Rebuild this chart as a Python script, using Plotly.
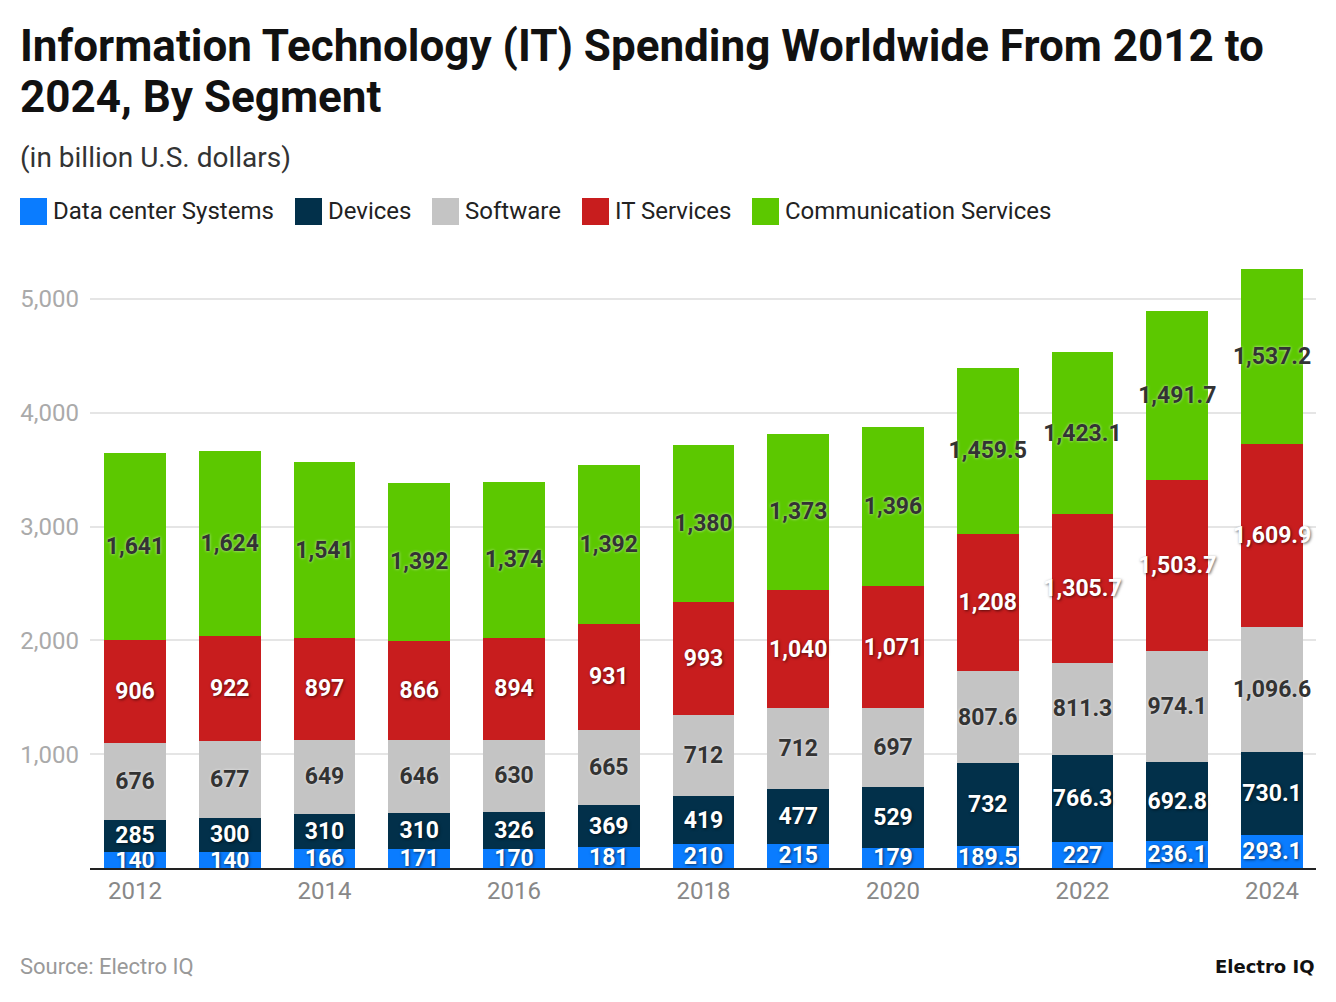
import plotly.graph_objects as go

years = list(range(2012, 2025))
data_center = [140, 140, 166, 171, 170, 181, 210, 215, 179, 189.5, 227, 236.1, 293.1]
devices = [285, 300, 310, 310, 326, 369, 419, 477, 529, 732, 766.3, 692.8, 730.1]
software = [676, 677, 649, 646, 630, 665, 712, 712, 697, 807.6, 811.3, 974.1, 1096.6]
it_services = [906, 922, 897, 866, 894, 931, 993, 1040, 1071, 1208, 1305.7, 1503.7, 1609.9]
communication = [1641, 1624, 1541, 1392, 1374, 1392, 1380, 1373, 1396, 1459.5, 1423.1, 1491.7, 1537.2]

names = ["Data center Systems", "Devices", "Software", "IT Services", "Communication Services"]
colors = ["#0a7cff", "#02304a", "#c4c4c4", "#c81d1e", "#5cc800"]
label_colors = ["#ffffff", "#ffffff", "#333333", "#ffffff", "#333333"]
series = [data_center, devices, software, it_services, communication]

title_lines = ["Information Technology (IT) Spending Worldwide From 2012 to",
               "2024, By Segment"]

W, H = 1336, 1002
L, R, T, B = 90, 20, 250, 134
PW, PH = W - L - R, H - T - B


def px(x):
    return (x - L) / PW


def py(y):
    return (H - B - y) / PH


def fmt(v):
    if v == int(v):
        return f"{int(v):,}"
    return f"{v:,.1f}"


fig = go.Figure()
for name, vals, col, lcol in zip(names, series, colors, label_colors):
    if lcol == "#ffffff":
        shadow = "1px 1px 3px rgba(0,0,0,0.6)"
    else:
        shadow = "0px 0px 3px rgba(255,255,255,0.7)"
    fig.add_trace(go.Bar(
        x=years, y=vals, name=name,
        marker=dict(color=col, line=dict(width=0)),
        text=[fmt(v) for v in vals],
        textposition="inside", insidetextanchor="middle",
        constraintext="none", textangle=0,
        textfont=dict(family="Roboto", size=23, color=lcol, weight="bold", shadow=shadow),
        showlegend=False,
        hoverinfo="x+y+name",
    ))

# legend drawn by hand so the swatches match the reference size
sw_x = [20, 295, 432, 582, 752]
shapes = []
annotations = []
for sx, name, col in zip(sw_x, names, colors):
    shapes.append(dict(type="rect", xref="paper", yref="paper",
                       x0=px(sx), x1=px(sx + 27), y0=py(225), y1=py(198),
                       fillcolor=col, line=dict(width=0)))
    annotations.append(dict(xref="paper", yref="paper", x=px(sx + 31), y=py(211),
                            xanchor="left", yanchor="middle", showarrow=False,
                            text=name, font=dict(family="Roboto", size=24, color="#222222")))

for line, ty in zip(title_lines, [46, 97]):
    annotations.append(dict(xref="paper", yref="paper", x=px(18), y=py(ty),
                            xanchor="left", yanchor="middle", showarrow=False,
                            text="<b>" + line + "</b>",
                            font=dict(family="Roboto", size=44, color="#111111")))

annotations.append(dict(xref="paper", yref="paper", x=px(18), y=py(157),
                        xanchor="left", yanchor="middle", showarrow=False,
                        text="(in billion U.S. dollars)",
                        font=dict(family="Roboto", size=28, color="#333333")))
annotations.append(dict(xref="paper", yref="paper", x=px(18), y=py(966),
                        xanchor="left", yanchor="middle", showarrow=False,
                        text="Source: Electro IQ",
                        font=dict(family="Roboto", size=22, color="#999999")))
annotations.append(dict(xref="paper", yref="paper", x=px(1316), y=py(966),
                        xanchor="right", yanchor="middle", showarrow=False,
                        text="<b>Electro IQ</b>",
                        font=dict(family="DejaVu Sans", size=18, color="#111111")))

fig.update_layout(
    width=W, height=H,
    margin=dict(l=L, r=R, t=T, b=B),
    paper_bgcolor="white", plot_bgcolor="white",
    barmode="stack", bargap=0.35,
    shapes=shapes,
    annotations=annotations,
    font=dict(family="Roboto"),
)
fig.update_xaxes(
    range=[2011.525, 2024.464], tickvals=years[::2], ticktext=[str(y) for y in years[::2]],
    showline=True, linecolor="#222222", linewidth=2, ticks="",
    tickfont=dict(family="Roboto", size=24, color="#888888"),
    showgrid=False, zeroline=False,
)
fig.update_yaxes(
    range=[0, 5430], tickvals=[1000, 2000, 3000, 4000, 5000],
    ticktext=["1,000", "2,000", "3,000", "4,000", "5,000"],
    showgrid=True, gridcolor="#e5e5e5", gridwidth=1.5, zeroline=False,
    tickfont=dict(family="Roboto", size=24, color="#aaaaaa"),
    ticklabelstandoff=10,
)

fig.write_html("out.html", config={"displayModeBar": False},
               post_script="document.body.style.margin='0';")
